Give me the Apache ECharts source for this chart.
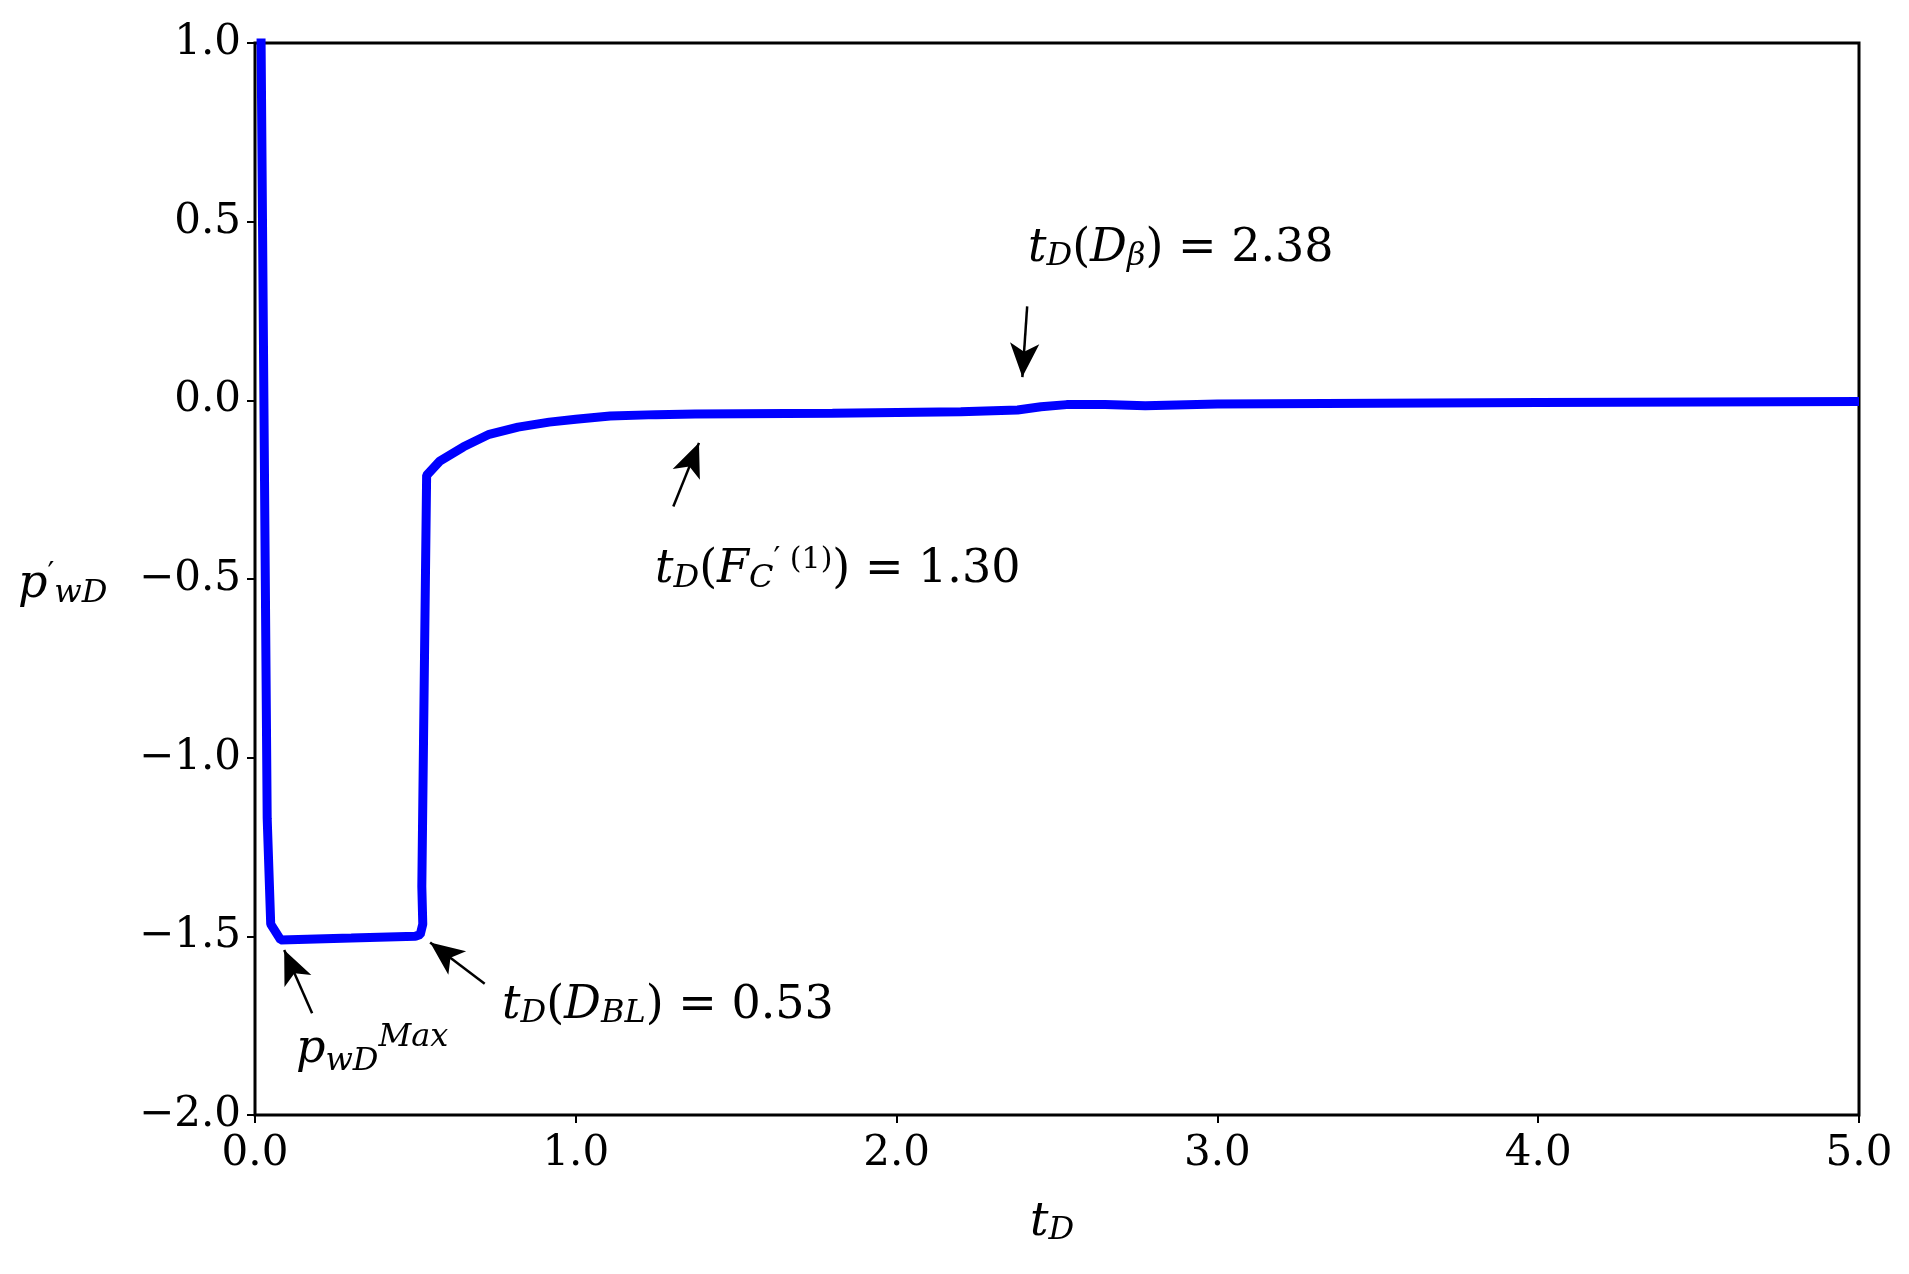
<!DOCTYPE html>
<html><head><meta charset="utf-8">
<script src="https://cdn.jsdelivr.net/npm/echarts@6/dist/echarts.min.js"></script>
<style>html,body{margin:0;padding:0;background:#fff}#c{width:1909px;height:1274px}</style>
</head><body><div id="c"></div>
<script>
const tD = [0.005,0.019,0.038,0.049,0.08,0.3,0.5,0.515,0.523,0.52,0.535,0.576,0.65,0.73,0.82,0.917,1.0,1.107,1.25,1.372,1.8,2.2,2.377,2.45,2.53,2.65,2.775,3.0,4.0,5.0];
const pwD = [2.5,1.0,-1.17,-1.466,-1.51,-1.505,-1.50,-1.495,-1.466,-1.36,-0.21,-0.17,-0.13,-0.095,-0.075,-0.061,-0.053,-0.044,-0.04,-0.038,-0.036,-0.032,-0.027,-0.018,-0.012,-0.012,-0.015,-0.01,-0.006,-0.003];
const xTicks = ['0.0','1.0','2.0','3.0','4.0','5.0'];
const arrows = [
  [[0.178,-1.715],[0.091,-1.538]],
  [[0.716,-1.633],[0.546,-1.517]],
  [[1.304,-0.297],[1.384,-0.119]],
  [[2.407,0.263],[2.392,0.065]]
];
const F = 'DejaVu Serif';
const chart = echarts.init(document.getElementById('c'));
const it = {fontFamily:F, fontStyle:'italic', fontSize:46, color:'#000'};
const sub = {fontFamily:F, fontStyle:'italic', fontSize:32, color:'#000', verticalAlign:'bottom', padding:[16,0,0,0]};
const up = {fontFamily:F, fontSize:30, color:'#000', verticalAlign:'top', padding:[0,0,20,0]};
const rm = {fontFamily:F, fontSize:46, color:'#000'};
chart.setOption({
  animation:false,
  grid:{left:255,right:50,top:43,bottom:159,show:true,borderColor:'#000',borderWidth:3,backgroundColor:'#fff'},
  xAxis:{type:'value',min:0,max:5,interval:1,
    axisLine:{show:false,onZero:false},splitLine:{show:false},
    axisTick:{show:true,length:8,lineStyle:{color:'#000',width:2}},
    axisLabel:{fontFamily:F,fontSize:42,color:'#000',margin:18,formatter:v=>xTicks[Math.round(v)]}},
  yAxis:{type:'value',min:-2,max:1,interval:0.5,
    axisLine:{show:false,onZero:false},splitLine:{show:false},
    axisTick:{show:true,length:8,lineStyle:{color:'#000',width:2}},
    axisLabel:{fontFamily:F,fontSize:42,color:'#000',margin:14,formatter:v=>(v<0?'\u2212':'')+Math.abs(v).toFixed(1)}},
  series:[{type:'line',data:tD.map((t,i)=>[t,pwD[i]]),showSymbol:false,clip:true,
    lineStyle:{color:'#0000ff',width:9},
    markLine:{silent:true,symbol:['none','arrow'],symbolSize:[22,34],precision:4,
      lineStyle:{color:'#000',width:2.5,type:'solid'},label:{show:false},
      data:arrows.map(a=>[{coord:a[0]},{coord:a[1]}])}}],
  graphic:[
    {type:'text',left:1028,top:226,style:{rich:{i:it,s:sub,r:rm},text:'{i|t}{s|D}{r|(}{i|D}{s|β}{r|) = 2.38}'}},
    {type:'text',left:655,top:545,style:{rich:{i:it,s:sub,r:rm,u:up},text:'{i|t}{s|D}{r|(}{i|F}{s|C}{u|′ (1)}{r|) = 1.30}'}},
    {type:'text',left:502,top:983,style:{rich:{i:it,s:sub,r:rm},text:'{i|t}{s|D}{r|(}{i|D}{s|BL}{r|) = 0.53}'}},
    {type:'text',left:296,top:1022,style:{rich:{i:it,s:sub,u:{fontFamily:F,fontStyle:'italic',fontSize:32,verticalAlign:'top',padding:[0,0,24,0]}},text:'{i|p}{s|wD}{u|Max}'}},
    {type:'text',left:18,top:560,style:{rich:{i:it,s:sub,u:up},text:'{i|p}{u|′}{s|wD}'}},
    {type:'text',left:1030,top:1200,style:{rich:{i:it,s:sub},text:'{i|t}{s|D}'}}
  ]
});
</script></body></html>
